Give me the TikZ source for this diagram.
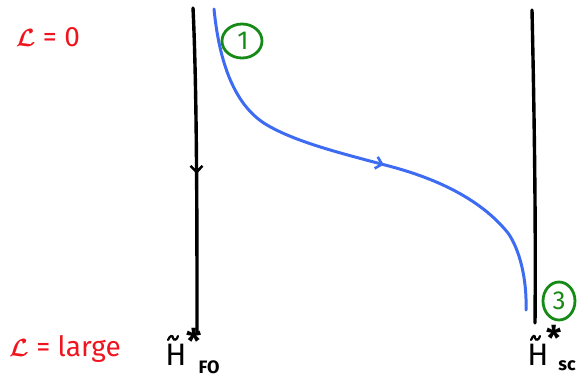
\documentclass[tikz,border=0pt]{standalone}
\usepackage{fontspec}
\setsansfont{Fira Sans}
\usetikzlibrary{arrows.meta,decorations.markings}
\definecolor{penred}{HTML}{F0141E}
\definecolor{penblue}{HTML}{3D6BF2}
\definecolor{pengreen}{HTML}{168A16}
\tikzset{
  axisline/.style={line width=3.4pt, black, line cap=round},
  flowline/.style={line width=3pt, penblue, line cap=round},
  redlabel/.style={text=penred, font=\sffamily\fontsize{28}{32}\selectfont, inner sep=0pt},
  hmain/.style={text=black, font=\sffamily\fontsize{31}{33}\selectfont, inner sep=0pt},
  hsub/.style={text=black, font=\sffamily\bfseries\fontsize{18}{20}\selectfont, inner sep=0pt},
  hstar/.style={text=black, font=\sffamily\bfseries\fontsize{34}{36}\selectfont, inner sep=0pt},
  tildemark/.style={line width=2.2pt, black, line cap=round},
  stagering/.style={draw=pengreen, line width=2.8pt},
  stagenum/.style={text=pengreen, font=\sffamily\fontsize{26}{28}\selectfont, inner sep=0pt},
  midarrow/.style={postaction={decorate}, decoration={markings, mark=at position #1 with {\arrow{Straight Barb[length=6pt,width=12pt,line width=2.6pt]}}}}
}
\begin{document}
\begin{tikzpicture}[x=1pt,y=-1pt]
\useasboundingbox (0,0) rectangle (582,381);
% labels on the left
\node[redlabel] (l0) at (48,37) {{\boldmath$\mathcal{L}$} = 0};
\node[redlabel] (ll) at (65,349) {{\boldmath$\mathcal{L}$} = large};
% left vertical line
\coordinate (ltop) at (193,8);
\coordinate (lbot) at (197,333);
\draw[axisline, midarrow=0.51] (ltop) .. controls (197,90) and (197,230) .. (lbot);
% right vertical line
\coordinate (rtop) at (532,10);
\coordinate (rbot) at (535,323);
\draw[axisline] (rtop) .. controls (534,100) and (536,220) .. (rbot);
% blue curve
\coordinate (btop) at (214,9);
\coordinate (bmid) at (385,165);
\coordinate (bend) at (526,310);
\draw[flowline, midarrow=0.995] (btop) .. controls (220,70) and (238,108) .. (267,125)
   .. controls (296,142) and (340,153) .. (bmid);
\draw[flowline] (bmid) .. controls (420,174) and (475,192) .. (508,233)
   .. controls (520,250) and (527,280) .. (bend);
% circled stage numbers
\draw[stagering] (242,41) ellipse (20pt and 17pt);
\node[stagenum] (c1) at (243,41) {1};
\draw[stagering] (559,301) ellipse (16pt and 19pt);
\node[stagenum] (c3) at (559,301) {3};
% bottom labels: H~*_FO
\node[hmain]  (hfo)  at (176,355) {H};
\draw[tildemark] (168,340) .. controls (170,335) and (173,335) .. (173,338)
   .. controls (174,341) and (177,340) .. (178,336);
\node[hstar]  (hfos) at (194,341) {*};
\node[hsub]   (hfob) at (209,367) {FO};
% bottom labels: H~*_sc
\node[hmain]  (hsc)  at (538,355) {H};
\draw[tildemark] (531,340) .. controls (533,335) and (535,335) .. (535,338)
   .. controls (536,341) and (539,340) .. (540,336);
\node[hstar]  (hscs) at (554,338) {*};
\node[hsub]   (hscb) at (567,366) {sc};
\end{tikzpicture}
\end{document}
